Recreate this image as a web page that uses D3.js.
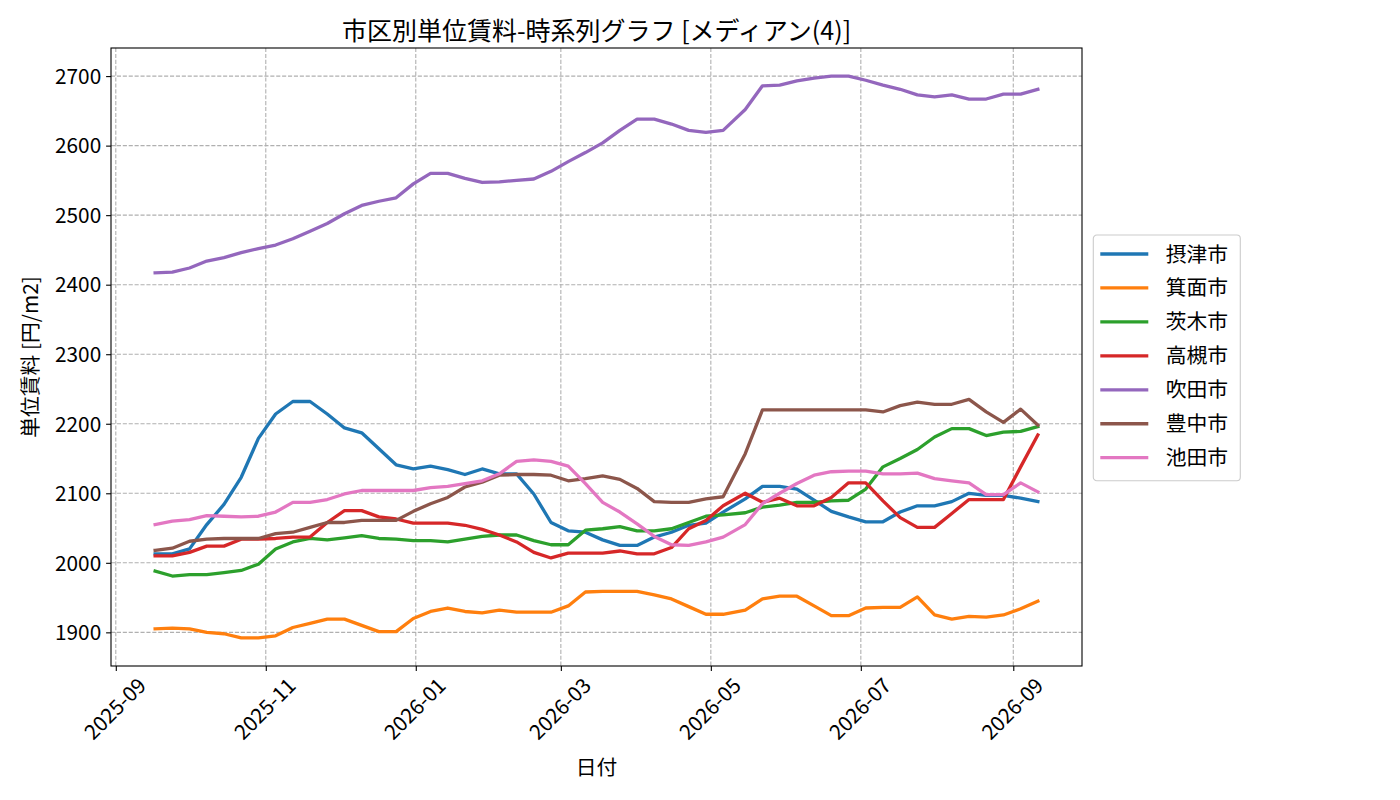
<!DOCTYPE html>
<html>
<head>
<meta charset="utf-8">
<script src="https://cdn.jsdelivr.net/npm/d3@7"></script>
<style>
    body { margin: 0; background: #fff; }
    svg { font-family: "Noto Sans CJK JP", "Noto Sans", sans-serif; }
</style>
</head>
<body>
<div class="chart"></div>
<script>
const dates = [
    '2025-09-17', '2025-09-24', '2025-10-01', '2025-10-08', '2025-10-15', '2025-10-22', '2025-10-29',
    '2025-11-05', '2025-11-12', '2025-11-19', '2025-11-26', '2025-12-03', '2025-12-10', '2025-12-17',
    '2025-12-24', '2025-12-31', '2026-01-07', '2026-01-14', '2026-01-21', '2026-01-28', '2026-02-04',
    '2026-02-11', '2026-02-18', '2026-02-25', '2026-03-04', '2026-03-11', '2026-03-18', '2026-03-25',
    '2026-04-01', '2026-04-08', '2026-04-15', '2026-04-22', '2026-04-29', '2026-05-06', '2026-05-15',
    '2026-05-22', '2026-05-29', '2026-06-05', '2026-06-12', '2026-06-19', '2026-06-26', '2026-07-03',
    '2026-07-10', '2026-07-17', '2026-07-24', '2026-07-31', '2026-08-07', '2026-08-14', '2026-08-21',
    '2026-08-28', '2026-09-04', '2026-09-11'
];

const settsu = [2013, 2013, 2020, 2055, 2084, 2123, 2179, 2214, 2232, 2232, 2214, 2194, 2187, 2164, 2141, 2135, 2139, 2134, 2127, 2135, 2128, 2128, 2099, 2058, 2046, 2044, 2033, 2025, 2025, 2037, 2044, 2054, 2057, 2073, 2092, 2110, 2110, 2106, 2090, 2074, 2066, 2059, 2059, 2073, 2082, 2082, 2088, 2100, 2097, 2097, 2093, 2088];
const minoh = [1905, 1906, 1905, 1900, 1898, 1892, 1892, 1895, 1907, 1913, 1919, 1919, 1910, 1901, 1901, 1920, 1930, 1935, 1930, 1928, 1932, 1929, 1929, 1929, 1938, 1958, 1959, 1959, 1959, 1954, 1948, 1937, 1926, 1926, 1932, 1948, 1952, 1952, 1938, 1924, 1924, 1935, 1936, 1936, 1951, 1925, 1919, 1923, 1922, 1925, 1934, 1945];
const ibaraki = [1988, 1981, 1983, 1983, 1986, 1989, 1998, 2020, 2030, 2035, 2033, 2036, 2039, 2035, 2034, 2032, 2032, 2030, 2034, 2038, 2040, 2040, 2032, 2026, 2026, 2047, 2049, 2052, 2046, 2046, 2049, 2058, 2067, 2069, 2072, 2080, 2083, 2087, 2087, 2089, 2090, 2106, 2138, 2150, 2163, 2181, 2193, 2193, 2183, 2188, 2189, 2196];
const takatsuki = [2010, 2010, 2015, 2024, 2024, 2034, 2034, 2035, 2037, 2037, 2058, 2075, 2075, 2066, 2063, 2057, 2057, 2057, 2054, 2048, 2040, 2030, 2015, 2007, 2014, 2014, 2014, 2017, 2013, 2013, 2022, 2049, 2061, 2082, 2100, 2087, 2093, 2082, 2082, 2094, 2115, 2115, 2089, 2065, 2051, 2051, 2071, 2091, 2091, 2091, 2138, 2184];
const suita = [2417, 2418, 2424, 2434, 2439, 2446, 2452, 2457, 2466, 2477, 2488, 2502, 2514, 2520, 2525, 2545, 2560, 2560, 2553, 2547, 2548, 2550, 2552, 2563, 2577, 2590, 2604, 2622, 2638, 2638, 2631, 2622, 2619, 2622, 2652, 2686, 2687, 2693, 2697, 2700, 2700, 2694, 2687, 2681, 2673, 2670, 2673, 2667, 2667, 2674, 2674, 2681];
const toyonaka = [2018, 2021, 2031, 2034, 2035, 2035, 2035, 2042, 2044, 2051, 2058, 2058, 2061, 2061, 2061, 2074, 2085, 2094, 2109, 2116, 2126, 2127, 2127, 2126, 2118, 2121, 2125, 2120, 2107, 2088, 2087, 2087, 2092, 2095, 2157, 2220, 2220, 2220, 2220, 2220, 2220, 2220, 2217, 2226, 2231, 2228, 2228, 2235, 2217, 2202, 2221, 2198];
const ikeda = [2055, 2060, 2062, 2068, 2067, 2066, 2067, 2073, 2087, 2087, 2091, 2099, 2104, 2104, 2104, 2104, 2108, 2110, 2114, 2118, 2128, 2146, 2148, 2146, 2139, 2114, 2087, 2073, 2056, 2038, 2026, 2025, 2030, 2037, 2055, 2085, 2100, 2114, 2126, 2131, 2132, 2132, 2128, 2128, 2129, 2121, 2118, 2115, 2098, 2098, 2115, 2102];

const cityNames = ['摂津市', '箕面市', '茨木市', '高槻市', '吹田市', '豊中市', '池田市'];
const cityValues = [settsu, minoh, ibaraki, takatsuki, suita, toyonaka, ikeda];
const cityColors = ['#1f77b4', '#ff7f0e', '#2ca02c', '#d62728', '#9467bd', '#8c564b', '#e377c2'];

const xTickDates = ['2025-09-01', '2025-11-01', '2026-01-01', '2026-03-01', '2026-05-01', '2026-07-01', '2026-09-01'];
const yTickValues = [1900, 2000, 2100, 2200, 2300, 2400, 2500, 2600, 2700];

const parseDate = d3.timeParse('%Y-%m-%d');
const days = dates.map(parseDate);

const plot = { left: 111, right: 1082, top: 48, bottom: 666 };
const tickLen = 4.9;
const tickFont = 20.8;
const lineWidth = 3.3;

// matplotlib style 5% margins on both axes
const t0 = +days[0], t1 = +days[days.length - 1];
const tPad = (t1 - t0) * 0.05;
const x = d3.scaleTime()
    .domain([new Date(t0 - tPad), new Date(t1 + tPad)])
    .range([plot.left, plot.right]);

const allValues = cityValues.flat();
const vMin = d3.min(allValues), vMax = d3.max(allValues);
const vPad = (vMax - vMin) * 0.05;
const y = d3.scaleLinear()
    .domain([vMin - vPad, vMax + vPad])
    .range([plot.bottom, plot.top]);

const svg = d3.select('.chart')
    .append('svg')
        .attr('width', 1400)
        .attr('height', 800);

svg.append('rect')
    .attr('width', 1400)
    .attr('height', 800)
    .attr('fill', '#fff');

// grid
const grid = svg.append('g')
    .attr('stroke', '#b0b0b0')
    .attr('stroke-width', 1.1)
    .attr('stroke-dasharray', '4.1,1.8');

grid.selectAll('.gx')
    .data(xTickDates.map(parseDate))
    .enter()
        .append('line')
        .attr('x1', d => x(d))
        .attr('x2', d => x(d))
        .attr('y1', plot.top)
        .attr('y2', plot.bottom);

grid.selectAll('.gy')
    .data(yTickValues)
    .enter()
        .append('line')
        .attr('x1', plot.left)
        .attr('x2', plot.right)
        .attr('y1', d => y(d))
        .attr('y2', d => y(d));

// series
const line = d3.line()
    .x((d, i) => x(days[i]))
    .y(d => y(d));

svg.append('g')
    .selectAll('path')
    .data(cityValues)
    .enter()
        .append('path')
        .attr('d', line)
        .attr('fill', 'none')
        .attr('stroke', (d, i) => cityColors[i])
        .attr('stroke-width', lineWidth)
        .attr('stroke-linejoin', 'round')
        .attr('stroke-linecap', 'square');

// axes
const xAxis = svg.append('g')
    .attr('transform', `translate(0,${plot.bottom})`)
    .call(d3.axisBottom(x)
        .tickValues(xTickDates.map(parseDate))
        .tickFormat(d3.timeFormat('%Y-%m'))
        .tickSizeInner(tickLen)
        .tickSizeOuter(0))
    .attr('font-family', null)
    .attr('font-size', tickFont);

xAxis.select('.domain').remove();
xAxis.selectAll('.tick line').attr('stroke-width', 1.1);
xAxis.selectAll('.tick text')
    .attr('fill', '#000')
    .attr('text-anchor', 'end')
    .attr('x', 0)
    .attr('y', 0)
    .attr('dy', null)
    .attr('transform', function () {
        const w = this.getComputedTextLength();
        const asc = 0.76 * tickFont, desc = 0.22 * tickFont;
        const ex = 0.7071 * (w + asc - desc) / 2;
        const ey = tickLen + 4.9 + 0.7071 * asc;
        return `translate(${ex},${ey}) rotate(-45)`;
    });

const yAxis = svg.append('g')
    .attr('transform', `translate(${plot.left},0)`)
    .call(d3.axisLeft(y)
        .tickValues(yTickValues)
        .tickFormat(d3.format('d'))
        .tickSizeInner(tickLen)
        .tickSizeOuter(0)
        .tickPadding(4.9))
    .attr('font-family', null)
    .attr('font-size', tickFont);

yAxis.select('.domain').remove();
yAxis.selectAll('.tick line').attr('stroke-width', 1.1);
yAxis.selectAll('.tick text')
    .attr('fill', '#000')
    .attr('dy', '0.35em');

svg.append('rect')
    .attr('x', plot.left)
    .attr('y', plot.top)
    .attr('width', plot.right - plot.left)
    .attr('height', plot.bottom - plot.top)
    .attr('fill', 'none')
    .attr('stroke', '#000')
    .attr('stroke-width', 1.1);

// titles
const midX = (plot.left + plot.right) / 2;
const midY = (plot.top + plot.bottom) / 2;

svg.append('text')
    .attr('x', midX)
    .attr('y', 40)
    .attr('text-anchor', 'middle')
    .attr('font-size', 25)
    .text('市区別単位賃料-時系列グラフ [メディアン(4)]');

svg.append('text')
    .attr('x', midX)
    .attr('y', 775)
    .attr('text-anchor', 'middle')
    .attr('font-size', 20.8)
    .text('日付');

svg.append('text')
    .attr('transform', `translate(38,${midY}) rotate(-90)`)
    .attr('text-anchor', 'middle')
    .attr('font-size', 20.8)
    .text('単位賃料 [円/m2]');

// legend
const legend = svg.append('g')
    .attr('transform', 'translate(1093.3,235)');

legend.append('rect')
    .attr('width', 147)
    .attr('height', 245.7)
    .attr('rx', 3.5)
    .attr('fill', '#fff')
    .attr('fill-opacity', 0.8)
    .attr('stroke', '#cccccc')
    .attr('stroke-width', 1.1);

const item = legend.selectAll('.item')
    .data(cityNames)
    .enter()
        .append('g')
        .attr('transform', (d, i) => `translate(0,${19 + i * 33.95})`);

item.append('line')
    .attr('x1', 7)
    .attr('x2', 55)
    .attr('stroke', (d, i) => cityColors[i])
    .attr('stroke-width', lineWidth);

item.append('text')
    .attr('x', 72.4)
    .attr('dy', '0.36em')
    .attr('font-size', 20.8)
    .text(d => d);
</script>
</body>
</html>
